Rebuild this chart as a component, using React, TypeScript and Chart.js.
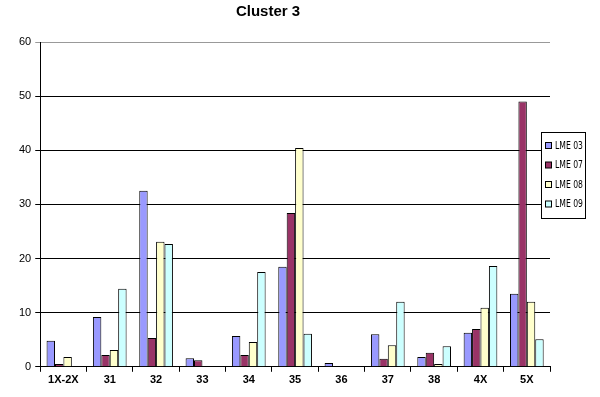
import React, { useEffect, useRef } from "react";
import { Chart, registerables } from "chart.js";

Chart.register(...registerables);

const chartTitle = "Cluster 3";
const categories = ["1X-2X", "31", "32", "33", "34", "35", "36", "37", "38", "4X", "5X"];
const lme03 = [4.8, 9.2, 32.5, 1.6, 5.7, 18.5, 0.7, 6.0, 1.8, 6.3, 13.5];
const lme07 = [0.5, 2.2, 5.3, 1.2, 2.2, 28.4, 0, 1.5, 2.6, 7.0, 49.0];
const lme08 = [1.8, 3.1, 23.1, 0, 4.6, 40.4, 0, 4.0, 0.5, 10.9, 12.0];
const lme09 = [0, 14.4, 22.7, 0, 17.5, 6.1, 0, 12.0, 3.8, 18.6, 5.1];
const seriesNames = ["LME 03", "LME 07", "LME 08", "LME 09"];
const seriesColors = ["#9999FF", "#993366", "#FFFFCC", "#CCFFFF"];

const legendBox = {
  id: "legendBox",
  afterDraw(chart: any) {
    const ctx = chart.ctx;
    ctx.save();
    ctx.font = "bold 15px Arial, 'Liberation Sans'";
    ctx.fillStyle = "#000";
    ctx.textAlign = "center";
    ctx.textBaseline = "middle";
    ctx.fillText(chartTitle, 268, 12);
    ctx.textAlign = "left";

    const x = 541, y = 132, w = 44, h = 86;
    ctx.fillStyle = "#fff";
    ctx.fillRect(x, y, w, h);
    ctx.strokeStyle = "#000";
    ctx.lineWidth = 1;
    ctx.strokeRect(x + 0.5, y + 0.5, w, h);
    ctx.font = "10px 'Liberation Sans Narrow', 'DejaVu Sans Condensed', Arial";
    chart.data.datasets.forEach((ds: any, i: number) => {
      const cy = y + 14 + i * 19.5;
      ctx.fillStyle = ds.backgroundColor;
      ctx.fillRect(x + 4.5, cy - 3.5, 6, 6);
      ctx.strokeStyle = "#000";
      ctx.strokeRect(x + 4.5, cy - 3.5, 6, 6);
      ctx.fillStyle = "#000";
      ctx.fillText(ds.label, x + 14, cy, 28);
    });
    ctx.restore();
  },
};

export default function App() {
  const ref = useRef<HTMLCanvasElement>(null);
  useEffect(() => {
    document.body.style.margin = "0";
    const data = [lme03, lme07, lme08, lme09];
    const chart = new Chart(ref.current!, {
      type: "bar",
      data: {
        labels: categories,
        datasets: seriesNames.map((n, i) => ({
          label: n,
          data: data[i],
          backgroundColor: seriesColors[i],
          borderColor: "#000",
          borderWidth: 1,
          categoryPercentage: 0.727,
          barPercentage: 1,
        })),
      },
      options: {
        animation: false,
        responsive: false,
        layout: { padding: { left: 15, right: 50, top: 42, bottom: 8 } },
        plugins: {
          legend: { display: false },
          tooltip: { enabled: false },
          title: { display: false },
        },
        scales: {
          x: {
            grid: { offset: true, drawOnChartArea: false, tickLength: 5, color: "#000" },
            border: { color: "#000" },
            ticks: { color: "#000", font: { family: "Arial, 'Liberation Sans'", size: 11, weight: "bold" }, padding: 2, maxRotation: 0 },
          },
          y: {
            min: 0,
            max: 60,
            ticks: { stepSize: 10, color: "#000", font: { family: "Arial, 'Liberation Sans'", size: 11 }, padding: 4 },
            grid: {
              tickLength: 5,
              color: (c: any) => (c.tick && c.tick.value === 60 ? "#999" : "#000"),
            },
            border: { color: "#000" },
          },
        },
      },
      plugins: [legendBox],
    });
    return () => chart.destroy();
  }, []);
  return <canvas ref={ref} width={600} height={397} style={{ display: "block" }} />;
}
